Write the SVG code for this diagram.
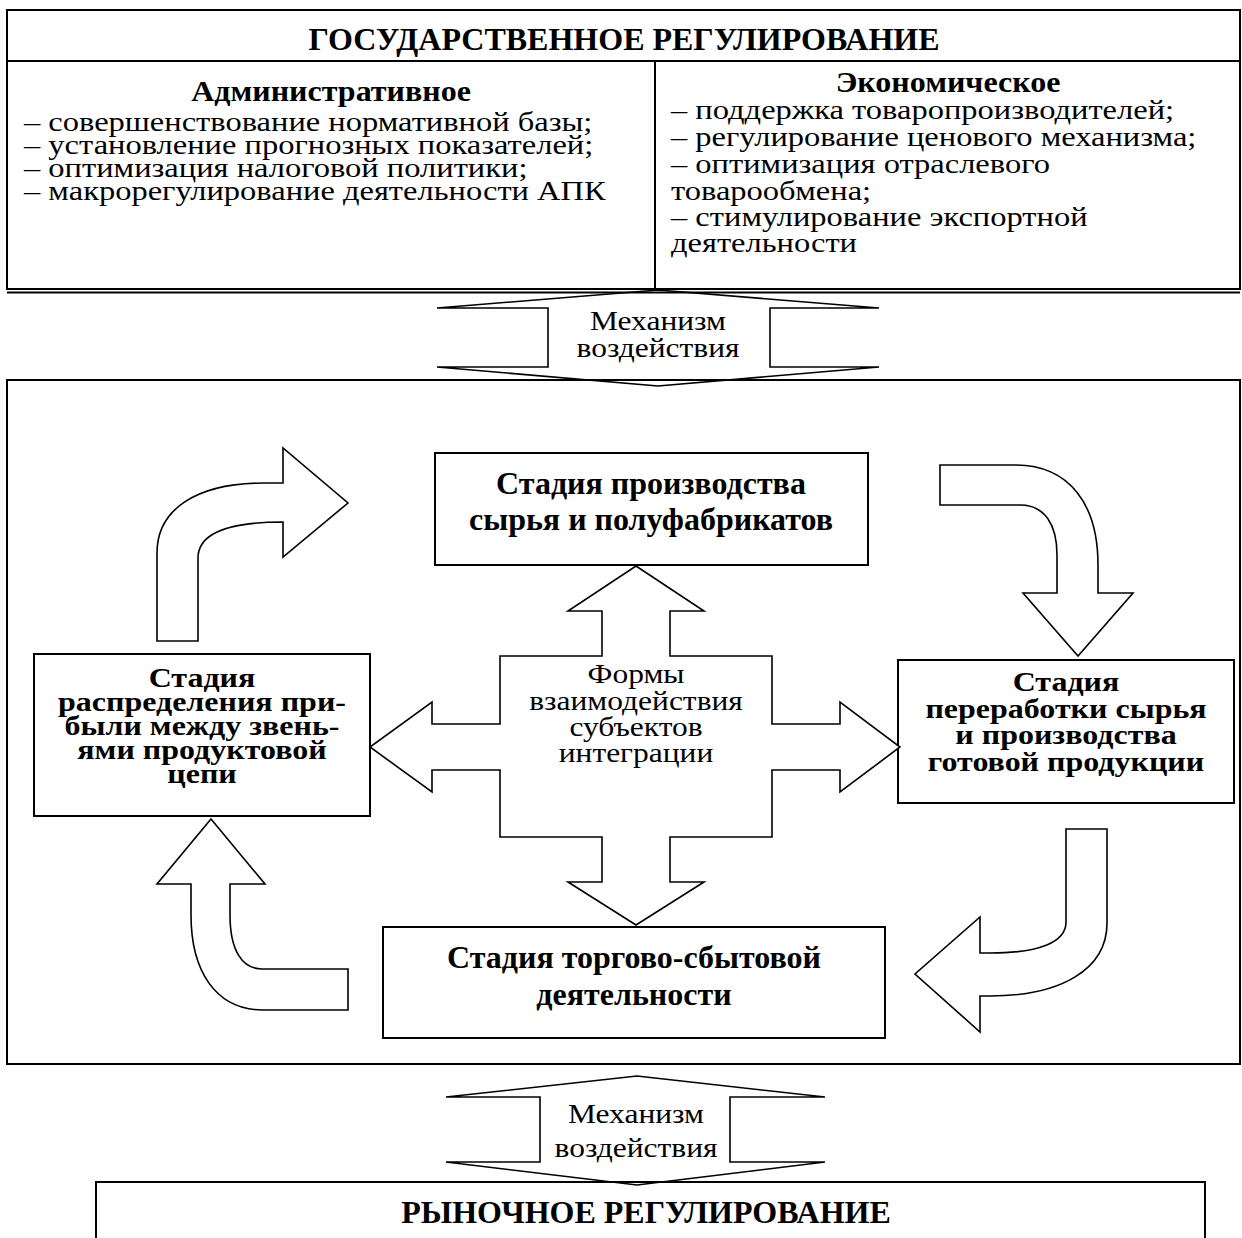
<svg xmlns="http://www.w3.org/2000/svg" width="1242" height="1238" viewBox="0 0 1242 1238">
<style>
.box{fill:none;stroke:#000;stroke-width:2}
.arr{fill:#fff;stroke:#000;stroke-width:1.6;stroke-linejoin:miter}
.mech{fill:none;stroke:#000;stroke-width:1.6}
text{font-family:"Liberation Serif","Times New Roman",serif;fill:#000}
.h{font-weight:bold;font-size:32px;text-anchor:middle}
.n{font-size:32.5px}
.c{font-size:31.5px;text-anchor:middle}
</style>
<rect width="1242" height="1238" fill="#fff"/>

<g id="state-regulation">
<rect class="box" x="7" y="10" width="1233" height="279"/>
<line class="box" x1="7" y1="292.5" x2="1240" y2="292.5"/>
<line class="box" x1="7" y1="61" x2="1240" y2="61"/>
<line class="box" x1="655" y1="61" x2="655" y2="289"/>
<text class="h" x="624" y="50">ГОСУДАРСТВЕННОЕ РЕГУЛИРОВАНИЕ</text>
<text class="h" transform="translate(331,101) scale(1,0.92)">Административное</text>
<text class="n" transform="translate(24,131) scale(1,0.87)">– совершенствование нормативной базы;</text>
<text class="n" transform="translate(24,154) scale(1,0.87)">– установление прогнозных показателей;</text>
<text class="n" transform="translate(24,177) scale(1,0.87)">– оптимизация налоговой политики;</text>
<text class="n" transform="translate(24,200) scale(1,0.87)">– макрорегулирование деятельности АПК</text>
<text class="h" transform="translate(948,92) scale(1,0.92)">Экономическое</text>
<text class="n" transform="translate(671,119) scale(1,0.87)">– поддержка товаропроизводителей;</text>
<text class="n" transform="translate(671,146) scale(1,0.87)">– регулирование ценового механизма;</text>
<text class="n" transform="translate(671,173) scale(1,0.87)">– оптимизация отраслевого</text>
<text class="n" transform="translate(671,199.5) scale(1,0.87)">товарообмена;</text>
<text class="n" transform="translate(671,226) scale(1,0.87)">– стимулирование экспортной</text>
<text class="n" transform="translate(671,252) scale(1,0.87)">деятельности</text>
</g>

<g id="integration-frame">
<rect class="box" x="7" y="380" width="1233" height="684"/>
</g>

<g id="stage-raw">
<rect class="box" x="435" y="453" width="433" height="112"/>
<text class="h" x="651" y="494">Стадия производства</text>
<text class="h" x="651" y="530">сырья и полуфабрикатов</text>
</g>

<g id="stage-processing">
<rect class="box" x="898" y="660" width="336" height="143"/>
<text class="h" transform="translate(1066,691) scale(1,0.88)">Стадия</text>
<text class="h" transform="translate(1066,718) scale(1,0.88)">переработки сырья</text>
<text class="h" transform="translate(1066,744) scale(1,0.88)">и производства</text>
<text class="h" transform="translate(1066,771) scale(1,0.88)">готовой продукции</text>
</g>

<g id="stage-distribution">
<rect class="box" x="34" y="654" width="336" height="162"/>
<text class="h" transform="translate(202,687) scale(1,0.86)">Стадия</text>
<text class="h" transform="translate(202,711) scale(1,0.86)">распределения при-</text>
<text class="h" transform="translate(202,735) scale(1,0.86)">были между звень-</text>
<text class="h" transform="translate(202,759) scale(1,0.86)">ями продуктовой</text>
<text class="h" transform="translate(202,783) scale(1,0.86)">цепи</text>
</g>

<g id="stage-trade">
<rect class="box" x="383" y="927" width="502" height="111"/>
<text class="h" x="634" y="968">Стадия торгово-сбытовой</text>
<text class="h" x="634" y="1005">деятельности</text>
</g>

<g id="market-regulation">
<rect class="box" x="96" y="1182" width="1109" height="80"/>
<text class="h" x="646" y="1223">РЫНОЧНОЕ РЕГУЛИРОВАНИЕ</text>
</g>

<g id="connectors">
<path class="mech" d="M658,290 L879,308 L770,308 L770,367 L879,367 L658,386 L437,367 L548,367 L548,308 L437,308 Z"/>
<text class="c" transform="translate(658,330) scale(1,0.88)">Механизм</text>
<text class="c" transform="translate(658,357) scale(1,0.88)">воздействия</text>

<path class="arr" d="M636,566 L704,611 L670,611 L670,656 L772,656 L772,724 L840,724 L840,702 L900,747 L840,792 L840,770 L772,770 L772,837 L670,837 L670,882 L704,882 L636,925 L568,882 L602,882 L602,837 L500,837 L500,770 L432,770 L432,792 L370,747 L432,702 L432,724 L500,724 L500,656 L602,656 L602,611 L568,611 Z"/>
<text class="c" transform="translate(636,683) scale(1,0.9)">Формы</text>
<text class="c" transform="translate(636,710) scale(1,0.9)">взаимодействия</text>
<text class="c" transform="translate(636,736) scale(1,0.9)">субъектов</text>
<text class="c" transform="translate(636,762) scale(1,0.9)">интеграции</text>

<path class="arr" d="M157,641 L157,553 C157,510 195,483 265,483 L283,483 L283,448 L348,503 L283,557 L283,522 C225,522 198,535 198,558 L198,641 Z"/>
<path class="arr" d="M940,465 L1015,465 C1070,465 1098,505 1098,565 L1098,593 L1133,593 L1078,656 L1023,593 L1057,593 L1057,555 C1057,525 1045,505 1020,505 L940,505 Z"/>
<path class="arr" d="M1066,829 L1107,829 L1107,923 C1107,970 1060,996 990,996 L980,996 L980,1032 L915,974 L980,917 L980,953 L990,953 C1040,953 1066,942 1066,922 Z"/>
<path class="arr" d="M348,969 L348,1010 L263,1010 C215,1010 191,970 191,915 L191,884 L157,884 L211,819 L265,884 L230,884 L230,915 C230,950 242,969 262,969 Z"/>

<path class="mech" d="M637,1076 L825,1097 L730,1097 L730,1162 L825,1162 L637,1185 L446,1162 L540,1162 L540,1097 L446,1097 Z"/>
<text class="c" transform="translate(636,1123) scale(1,0.88)">Механизм</text>
<text class="c" transform="translate(636,1157) scale(1,0.88)">воздействия</text>
</g>
</svg>
